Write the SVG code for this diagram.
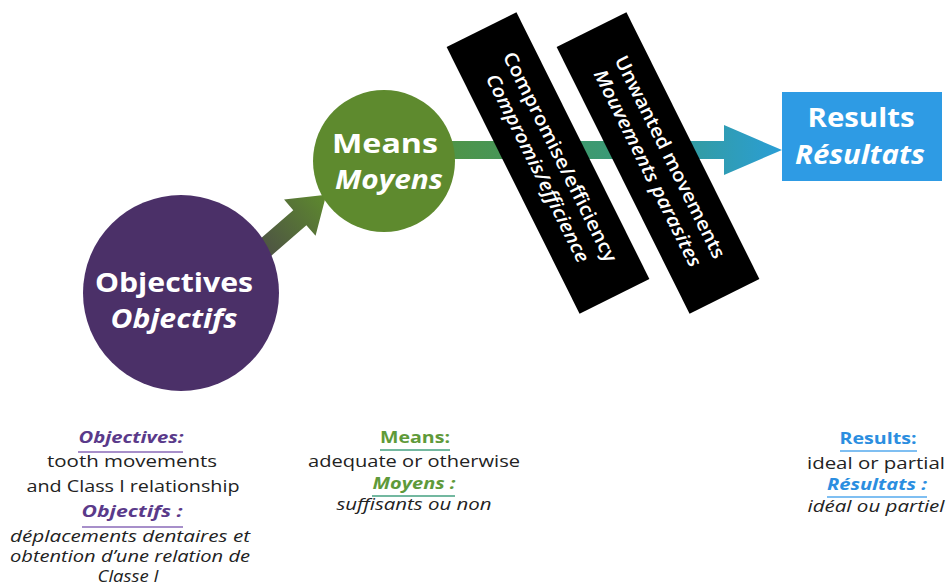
<svg xmlns="http://www.w3.org/2000/svg" width="947" height="588" viewBox="0 0 947 588">
<defs>
<linearGradient id="gDiag" x1="0" y1="0" x2="1" y2="0">
<stop offset="0" stop-color="#4a4848"/>
<stop offset="1" stop-color="#5e8a2e"/>
</linearGradient>
<linearGradient id="gHor" gradientUnits="userSpaceOnUse" x1="450" y1="0" x2="782" y2="0">
<stop offset="0" stop-color="#4e9448"/>
<stop offset="0.5" stop-color="#3a9a78"/>
<stop offset="1" stop-color="#2a9ed6"/>
</linearGradient>
<style>
text{font-family:"Open Sans","Liberation Sans",sans-serif;}
.nt{fill:#ffffff;font-weight:700;text-anchor:middle;font-size:27px;}
.it{font-style:italic;}
.bt{fill:#ffffff;font-weight:600;text-anchor:middle;font-size:19px;}
.body{fill:#222222;font-size:16px;text-anchor:middle;}
.hd{font-weight:700;font-size:16px;text-anchor:middle;}
.band{fill:#000000;}
</style>
</defs>
<g id="connectors">
<polygon transform="translate(250,261) rotate(-41)" points="0,-10 66,-10 66,-24 101,0 66,24 66,10 0,10" fill="url(#gDiag)"/>
<polygon points="440,141 724,141 724,125 782,150 724,175 724,159 440,159" fill="url(#gHor)"/>
</g>
<g id="objectives">
<circle cx="181" cy="293" r="98" fill="#4b3068"/>
<text class="nt" x="174" y="292" font-size="28" textLength="158" lengthAdjust="spacingAndGlyphs">Objectives</text>
<text class="nt it" x="174" y="328" font-size="28" textLength="127" lengthAdjust="spacingAndGlyphs">Objectifs</text>
</g>
<g id="means">
<circle cx="384" cy="161" r="71" fill="#5e8a2e"/>
<text class="nt" x="385" y="153" textLength="106" lengthAdjust="spacingAndGlyphs">Means</text>
<text class="nt it" x="389" y="189" textLength="108" lengthAdjust="spacingAndGlyphs">Moyens</text>
</g>
<g id="results">
<rect x="782" y="92" width="160" height="89" fill="#2e9be4"/>
<text class="nt" x="861" y="127" textLength="107" lengthAdjust="spacingAndGlyphs">Results</text>
<text class="nt it" x="860" y="164" textLength="130" lengthAdjust="spacingAndGlyphs">Résultats</text>
</g>
<g id="compromise" transform="translate(548,163) rotate(63.5)">
<rect class="band" x="-149" y="-39" width="298" height="78"/>
<text class="bt" x="0" y="-7" textLength="232" lengthAdjust="spacingAndGlyphs">Compromise/efficiency</text>
<text class="bt it" x="0" y="18" textLength="208" lengthAdjust="spacingAndGlyphs">Compromis/efficience</text>
</g>
<g id="unwanted" transform="translate(658,163) rotate(63.5)">
<rect class="band" x="-149" y="-39" width="298" height="78"/>
<text class="bt" x="0" y="-7" textLength="224" lengthAdjust="spacingAndGlyphs">Unwanted movements</text>
<text class="bt it" x="0" y="18" textLength="218" lengthAdjust="spacingAndGlyphs">Mouvements parasites</text>
</g>
<g id="objectives-note">
<text class="hd it" x="131" y="443" fill="#5a3a8a" textLength="105" lengthAdjust="spacingAndGlyphs">Objectives:</text>
<line x1="78" y1="452" x2="183" y2="452" stroke="#8a6ab8" stroke-width="1.5"/>
<text class="body" x="132" y="467" textLength="170" lengthAdjust="spacingAndGlyphs">tooth movements</text>
<text class="body" x="133" y="492" textLength="213" lengthAdjust="spacingAndGlyphs">and Class I relationship</text>
<text class="hd it" x="132" y="517" fill="#5a3a8a" textLength="101" lengthAdjust="spacingAndGlyphs">Objectifs :</text>
<line x1="82" y1="527" x2="183" y2="527" stroke="#8a6ab8" stroke-width="1.5"/>
<text class="body it" x="130" y="542" textLength="240" lengthAdjust="spacingAndGlyphs">déplacements dentaires et</text>
<text class="body it" x="130" y="562" textLength="240" lengthAdjust="spacingAndGlyphs">obtention d’une relation de</text>
<text class="body it" x="128" y="582" textLength="61" lengthAdjust="spacingAndGlyphs">Classe I</text>
</g>
<g id="means-note">
<text class="hd" x="415" y="443" fill="#5f9a3a" textLength="70" lengthAdjust="spacingAndGlyphs">Means:</text>
<line x1="380" y1="450" x2="450" y2="450" stroke="#45a080" stroke-width="1.5"/>
<text class="body" x="414" y="467" textLength="212" lengthAdjust="spacingAndGlyphs">adequate or otherwise</text>
<text class="hd it" x="414" y="489" fill="#5f9a3a" font-size="15" textLength="83" lengthAdjust="spacingAndGlyphs">Moyens :</text>
<line x1="372" y1="496" x2="455" y2="496" stroke="#45a080" stroke-width="1.5"/>
<text class="body it" x="414" y="510" font-size="15" textLength="155" lengthAdjust="spacingAndGlyphs">suffisants ou non</text>
</g>
<g id="results-note">
<text class="hd" x="878" y="444" fill="#2b8ee0" textLength="77" lengthAdjust="spacingAndGlyphs">Results:</text>
<line x1="840" y1="451" x2="917" y2="451" stroke="#55aaee" stroke-width="1.5"/>
<text class="body" x="876" y="469" textLength="138" lengthAdjust="spacingAndGlyphs">ideal or partial</text>
<text class="hd it" x="877" y="490" fill="#2b8ee0" font-size="15" textLength="100" lengthAdjust="spacingAndGlyphs">Résultats :</text>
<line x1="827" y1="497" x2="927" y2="497" stroke="#55aaee" stroke-width="1.5"/>
<text class="body it" x="876" y="512" font-size="15" textLength="137" lengthAdjust="spacingAndGlyphs">idéal ou partiel</text>
</g>
</svg>
